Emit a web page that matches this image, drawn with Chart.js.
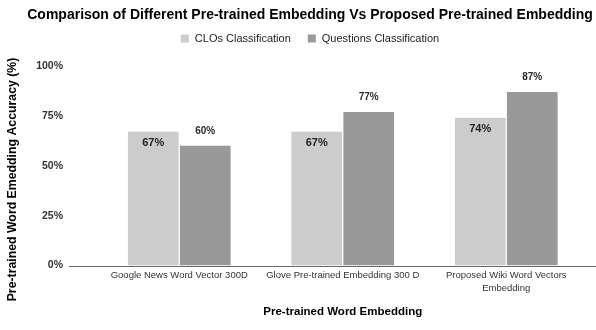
<!DOCTYPE html>
<html>
<head>
<meta charset="utf-8">
<title>Pre-trained Embedding Comparison</title>
<script src="https://cdn.jsdelivr.net/npm/chart.js@4.4.1/dist/chart.umd.min.js"></script>
<style>
  html, body { margin: 0; padding: 0; background: #fff; }
  #wrap { width: 596px; height: 330px; }
</style>
</head>
<body>
<div id="wrap"><canvas id="chart" width="596" height="330"></canvas></div>
<script>
const categories = [
  "Google News Word Vector 300D",
  "Glove Pre-trained Embedding 300 D",
  ["Proposed Wiki Word Vectors", "Embedding"]
];
const cloAccuracy = [67, 67, 74];
const questionAccuracy = [60, 77, 87];
const yTicks = [0, 25, 50, 75, 100];

const chartTitle = "Comparison of Different Pre-trained Embedding Vs Proposed Pre-trained Embedding";
const xTitle = "Pre-trained Word Embedding";
const yTitle = "Pre-trained Word Emedding Accuracy (%)";

const FONT = "'Liberation Sans', Arial, Helvetica, sans-serif";

// title, legend and y-axis title are drawn by hand so they can sit off-centre
const headerPlugin = {
  id: "header",
  afterDraw(chart) {
    const ctx = chart.ctx;
    const cx = 310;
    ctx.save();
    ctx.textBaseline = "middle";

    ctx.fillStyle = "#000";
    ctx.font = `bold 14px ${FONT}`;
    ctx.textAlign = "center";
    ctx.fillText(chartTitle, cx, 15.5);

    // legend
    ctx.font = `11px ${FONT}`;
    ctx.textAlign = "left";
    const box = 8, gap = 6, spacing = 17;
    const items = chart.data.datasets.map(ds => ({
      text: ds.label,
      color: ds.backgroundColor,
      w: ctx.measureText(ds.label).width
    }));
    const total = items.reduce((s, it) => s + box + gap + it.w, 0) + spacing * (items.length - 1);
    let x = cx - total / 2;
    items.forEach(it => {
      ctx.fillStyle = it.color;
      ctx.fillRect(x, 34.5, box, box);
      ctx.fillStyle = "#222";
      ctx.fillText(it.text, x + box + gap, 39);
      x += box + gap + it.w + spacing;
    });

    // y axis title
    ctx.translate(13, 179.5);
    ctx.rotate(-Math.PI / 2);
    ctx.textAlign = "center";
    ctx.fillStyle = "#000";
    ctx.font = `bold 12.3px ${FONT}`;
    ctx.fillText(yTitle, 0, 0);
    ctx.restore();
  }
};

// zero line runs past the plot area to the left edge of the axis labels
const baselinePlugin = {
  id: "baseline",
  afterDatasetsDraw(chart) {
    const ctx = chart.ctx;
    const y = Math.round(chart.scales.y.getPixelForValue(0)) + 0.5;
    ctx.save();
    ctx.strokeStyle = "#666";
    ctx.lineWidth = 1;
    ctx.beginPath();
    ctx.moveTo(69, y);
    ctx.lineTo(596, y);
    ctx.stroke();
    ctx.restore();
  }
};

// value labels: inside the top of the CLO bars, above the question bars
const valueLabels = {
  id: "valueLabels",
  afterDatasetsDraw(chart) {
    const ctx = chart.ctx;
    ctx.save();
    ctx.textAlign = "center";
    ctx.textBaseline = "middle";
    chart.data.datasets.forEach((ds, di) => {
      chart.getDatasetMeta(di).data.forEach((bar, i) => {
        const text = ds.data[i] + "%";
        if (di === 0) {
          ctx.font = `bold 11px ${FONT}`;
          ctx.fillStyle = "#222";
          ctx.fillText(text, bar.x, bar.y + 11.5);
        } else {
          ctx.font = `bold 10px ${FONT}`;
          ctx.fillStyle = "#2a2a2a";
          ctx.fillText(text, bar.x, bar.y - 14.3);
        }
      });
    });
    ctx.restore();
  }
};

new Chart(document.getElementById("chart"), {
  type: "bar",
  data: {
    labels: categories,
    datasets: [
      {
        label: "CLOs Classification",
        data: cloAccuracy,
        backgroundColor: "#cccccc",
        categoryPercentage: 0.636,
        barPercentage: 0.975
      },
      {
        label: "Questions Classification",
        data: questionAccuracy,
        backgroundColor: "#999999",
        categoryPercentage: 0.636,
        barPercentage: 0.975
      }
    ]
  },
  options: {
    responsive: false,
    animation: false,
    layout: { padding: { top: 66, right: 8, left: 0, bottom: 0 } },
    plugins: {
      legend: { display: false },
      title: { display: false },
      tooltip: { enabled: false }
    },
    scales: {
      x: {
        grid: { display: false, drawTicks: false },
        border: { display: false },
        ticks: {
          color: "#333",
          font: { family: FONT, size: 9.5, lineHeight: 1.33 },
          padding: 4,
          maxRotation: 0,
          autoSkip: false
        },
        title: {
          display: true,
          text: xTitle,
          color: "#000",
          font: { family: FONT, size: 11.5, weight: "bold" },
          padding: { top: 4, bottom: 11 }
        },
        afterFit(scale) { scale.height = 64.5; }
      },
      y: {
        min: 0,
        max: 100,
        grid: { display: false, drawTicks: false },
        border: { display: false },
        afterBuildTicks(scale) { scale.ticks = yTicks.map(v => ({ value: v })); },
        ticks: {
          callback: v => v + "%",
          color: "#333",
          font: { family: FONT, size: 10.5, weight: "bold" },
          padding: 34.5
        },
        afterFit(scale) { scale.width = 97.5; }
      }
    }
  },
  plugins: [baselinePlugin, valueLabels, headerPlugin]
});
</script>
</body>
</html>
